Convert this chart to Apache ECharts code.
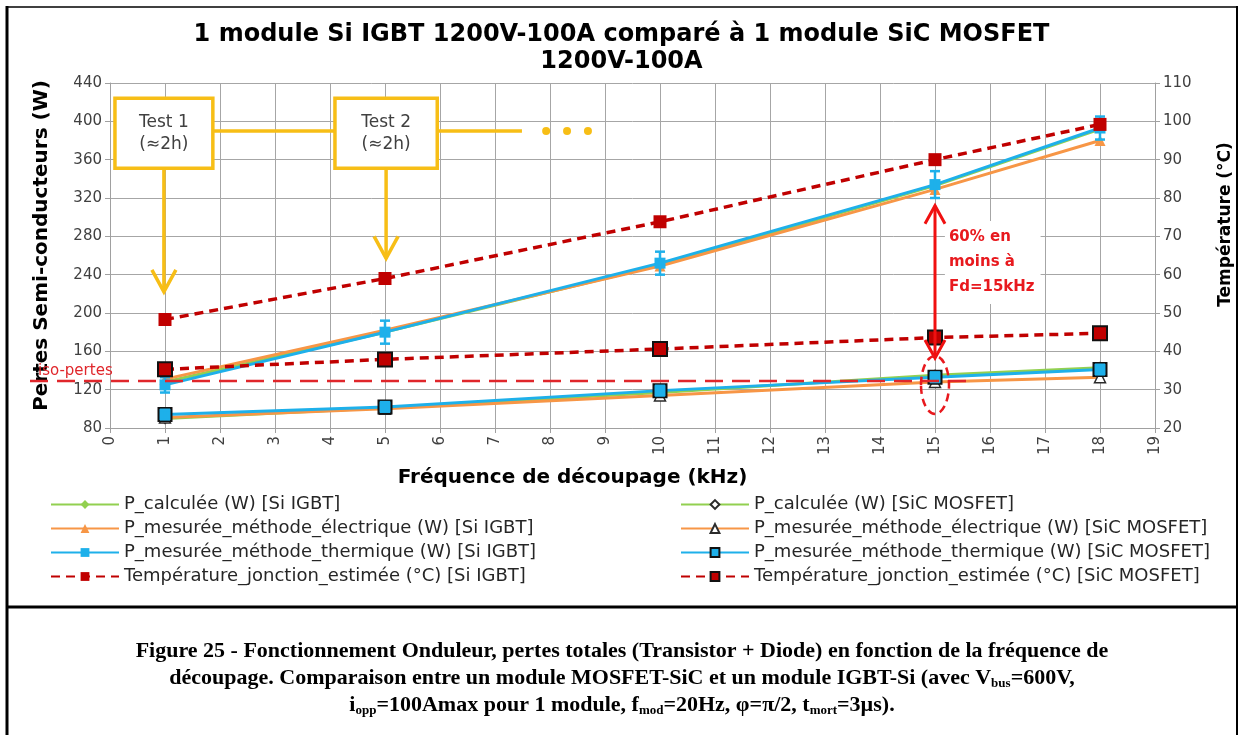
<!DOCTYPE html>
<html><head><meta charset="utf-8">
<script src="https://cdn.jsdelivr.net/npm/echarts@6/dist/echarts.min.js"></script>
<style>html,body{margin:0;padding:0;background:#fff}#c{width:1243px;height:735px}</style>
</head><body><div id="c"></div>
<script>
// ---------- data ----------
const freq = [1, 5, 10, 15, 18];
const siCalc = [128, 180, 250, 333, 392];
const siElec = [131, 182, 249, 329, 380];
const siTherm = [125, 180, 252, 334, 393];
const siThermErr = [8, 12, 12, 14, 12];
const siTemp = [48.3, 59.0, 73.8, 90.0, 99.2];
const sicCalc = [90, 101, 117, 135, 143];
const sicElec = [91, 100, 114, 128, 133];
const sicTherm = [94, 102, 119, 133, 141];
const sicThermErr = [5, 5, 5, 5, 5];
const sicTemp = [35.3, 37.9, 40.6, 43.6, 44.7];
const isoLoss = 129;
const names = {
  siCalc: 'P_calculée (W) [Si IGBT]',
  siElec: 'P_mesurée_méthode_électrique (W) [Si IGBT]',
  siTherm: 'P_mesurée_méthode_thermique (W) [Si IGBT]',
  siTemp: 'Température_jonction_estimée (°C) [Si IGBT]',
  sicCalc: 'P_calculée (W) [SiC MOSFET]',
  sicElec: 'P_mesurée_méthode_électrique (W) [SiC MOSFET]',
  sicTherm: 'P_mesurée_méthode_thermique (W) [SiC MOSFET]',
  sicTemp: 'Température_jonction_estimée (°C) [SiC MOSFET]'
};
const titleText = '1 module Si IGBT 1200V-100A comparé à 1 module SiC MOSFET\n1200V-100A';

// ---------- styles ----------
const GREEN = '#92D050', ORANGE = '#F79646', BLUE = '#1EB0EA', RED = '#C00000', YEL = '#F7BE16', ANN = '#E8191E';
const F = 'DejaVu Sans';
const pairs = a => freq.map((f, i) => [f, a[i]]);

function lineSeries(name, data, color, opts) {
  return Object.assign({
    name, type: 'line', data: pairs(data), color,
    lineStyle: { color, width: 3 },
    symbolSize: 9, showSymbol: true, animation: false, z: 3
  }, opts);
}
function errSeries(vals, errs) {
  return {
    type: 'custom', animation: false, z: 4, silent: true,
    data: freq.map((f, i) => [f, vals[i] - errs[i], vals[i] + errs[i]]),
    renderItem: (params, api) => {
      const lo = api.coord([api.value(0), api.value(1)]);
      const hi = api.coord([api.value(0), api.value(2)]);
      const w = 5;
      const st = { stroke: BLUE, lineWidth: 2.5 };
      return { type: 'group', children: [
        { type: 'line', shape: { x1: lo[0], y1: lo[1], x2: hi[0], y2: hi[1] }, style: st },
        { type: 'line', shape: { x1: lo[0] - w, y1: lo[1], x2: lo[0] + w, y2: lo[1] }, style: st },
        { type: 'line', shape: { x1: hi[0] - w, y1: hi[1], x2: hi[0] + w, y2: hi[1] }, style: st }
      ]};
    }
  };
}

const chart = echarts.init(document.getElementById('c'), null, { renderer: 'canvas' });
const axisLab = { fontFamily: F, fontSize: 15, color: '#404040' };
const legendText = { fontFamily: F, fontSize: 18, color: '#262626', lineHeight: 19 };
const option = {
  animation: false,
  title: { text: titleText, left: 'center', top: 16,
    textStyle: { fontFamily: F, fontSize: 24, fontWeight: 'bold', color: '#000', lineHeight: 27 } },
  grid: { left: 110, right: 88, top: 83, bottom: 307, containLabel: false },
  legend: [
    { orient: 'vertical', left: 45, top: 490, itemWidth: 68, itemHeight: 11, itemGap: 5,
      textStyle: legendText, data: [names.siCalc, names.siElec, names.siTherm, names.siTemp] },
    { orient: 'vertical', left: 675, top: 490, itemWidth: 68, itemHeight: 11, itemGap: 5,
      textStyle: legendText, data: [names.sicCalc, names.sicElec, names.sicTherm, names.sicTemp] }
  ],
  xAxis: { type: 'value', min: 0, max: 19, interval: 1,
    name: 'Fréquence de découpage (kHz)', nameLocation: 'middle', nameGap: 40,
    nameTextStyle: { fontFamily: F, fontSize: 20, fontWeight: 'bold', color: '#000', padding: [0, 120, 0, 0] },
    axisLine: { lineStyle: { color: '#A0A0A0' } }, axisTick: { lineStyle: { color: '#A0A0A0' }, length: 5 },
    axisLabel: Object.assign({ rotate: 90, margin: 8 }, axisLab),
    splitLine: { lineStyle: { color: '#A6A6A6', width: 1 } } },
  yAxis: [
    { type: 'value', min: 80, max: 440, interval: 40, position: 'left',
      name: 'Pertes Semi-conducteurs (W)', nameLocation: 'middle', nameGap: 58, nameRotate: 90,
      nameTextStyle: { fontFamily: F, fontSize: 20, fontWeight: 'bold', color: '#000', padding: [0, 0, 0, 20] },
      axisLine: { show: true, lineStyle: { color: '#A0A0A0' } }, axisTick: { show: true, length: 5, lineStyle: { color: '#A0A0A0' } },
      axisLabel: Object.assign({ margin: 8 }, axisLab),
      splitLine: { lineStyle: { color: '#A6A6A6', width: 1 } } },
    { type: 'value', min: 20, max: 110, interval: 10, position: 'right',
      name: 'Température (°C)', nameLocation: 'middle', nameGap: 62, nameRotate: 90,
      nameTextStyle: { fontFamily: F, fontSize: 17, fontWeight: 'bold', color: '#000', padding: [0, 0, 0, 62] },
      axisLine: { show: true, lineStyle: { color: '#A0A0A0' } }, axisTick: { show: true, length: 5, lineStyle: { color: '#A0A0A0' } },
      axisLabel: Object.assign({ margin: 8 }, axisLab),
      splitLine: { show: false } }
  ],
  series: [
    lineSeries(names.siCalc, siCalc, GREEN, { symbol: 'diamond', symbolSize: 8, itemStyle: { color: GREEN } }),
    lineSeries(names.siElec, siElec, ORANGE, { symbol: 'triangle', symbolSize: 11, itemStyle: { color: ORANGE } }),
    lineSeries(names.siTherm, siTherm, BLUE, { symbol: 'rect', symbolSize: 11, itemStyle: { color: BLUE } }),
    lineSeries(names.siTemp, siTemp, RED, { yAxisIndex: 1, symbol: 'rect', symbolSize: 13,
      lineStyle: { color: RED, width: 3.5, type: [9, 6] }, itemStyle: { color: RED }, z: 5 }),
    lineSeries(names.sicCalc, sicCalc, GREEN, { symbol: 'diamond', symbolSize: 10,
      itemStyle: { color: '#fff', borderColor: '#2b2b2b', borderWidth: 1.5 } }),
    lineSeries(names.sicElec, sicElec, ORANGE, { symbol: 'triangle', symbolSize: 11,
      itemStyle: { color: '#fff', borderColor: '#2b2b2b', borderWidth: 1.5 } }),
    lineSeries(names.sicTherm, sicTherm, BLUE, { symbol: 'rect', symbolSize: 13,
      itemStyle: { color: BLUE, borderColor: '#111', borderWidth: 2 } }),
    lineSeries(names.sicTemp, sicTemp, RED, { yAxisIndex: 1, symbol: 'rect', symbolSize: 14,
      lineStyle: { color: RED, width: 3.5, type: [9, 6] }, itemStyle: { color: RED, borderColor: '#111', borderWidth: 2 }, z: 5 }),
    errSeries(siTherm, siThermErr),
    errSeries(sicTherm, sicThermErr)
  ]
};
chart.setOption(option);

// ---------- annotations (positioned through the axes' scales) ----------
const P = (x, y) => chart.convertToPixel({ xAxisIndex: 0, yAxisIndex: 0 }, [x, y]);
const g = [];
function testBox(x0, x1, label, arrowTipY) {
  const a = P(x0, 424), b = P(x1, 351);
  g.push({ type: 'rect', z: 20, shape: { x: a[0], y: a[1], width: b[0] - a[0], height: b[1] - a[1] },
    style: { fill: '#fff', stroke: YEL, lineWidth: 3.5 } });
  g.push({ type: 'text', z: 21, x: (a[0] + b[0]) / 2, y: (a[1] + b[1]) / 2,
    style: { text: label + '\n(≈2h)', fill: '#404040', font: '17px "DejaVu Sans"', align: 'center', verticalAlign: 'middle', lineHeight: 22 } });
  const cx = (x0 + x1) / 2;
  const top = P(cx, 351), tip = P(cx, arrowTipY);
  g.push({ type: 'line', z: 20, shape: { x1: top[0], y1: top[1], x2: tip[0], y2: tip[1] }, style: { stroke: YEL, lineWidth: 3.5 } });
  g.push({ type: 'polyline', z: 20, shape: { points: [[tip[0] - 12, tip[1] - 22], [tip[0], tip[1]], [tip[0] + 12, tip[1] - 22]] },
    style: { stroke: YEL, lineWidth: 3.5, fill: null } });
  return [a, b];
}
const b1 = testBox(0.09, 1.87, 'Test 1', 222);
const b2 = testBox(4.09, 5.95, 'Test 2', 257);
const hy = P(0, 390)[1];
g.push({ type: 'line', z: 19, shape: { x1: b1[1][0], y1: hy, x2: b2[0][0], y2: hy }, style: { stroke: YEL, lineWidth: 3.5 } });
const lineEnd = P(7.49, 390);
g.push({ type: 'line', z: 19, shape: { x1: b2[1][0], y1: hy, x2: lineEnd[0], y2: hy }, style: { stroke: YEL, lineWidth: 3.5 } });
[7.93, 8.31, 8.69].forEach(x => { const p = P(x, 390); g.push({ type: 'circle', z: 19, shape: { cx: p[0], cy: p[1], r: 4 }, style: { fill: YEL } }); });

// iso-pertes line
const isoEnd = P(15.7, isoLoss);
g.push({ type: 'line', z: 6, shape: { x1: 30, y1: isoEnd[1], x2: isoEnd[0], y2: isoEnd[1] },
  style: { stroke: '#E0262B', lineWidth: 2.5, lineDash: [18, 9] } });
g.push({ type: 'text', z: 6, x: 38, y: isoEnd[1] - 2,
  style: { text: 'iso-pertes', fill: '#E0262B', font: '15px "DejaVu Sans"', align: 'left', verticalAlign: 'bottom' } });

// 60% arrow
const at = P(15, 312), ab = P(15, 153);
g.push({ type: 'line', z: 22, shape: { x1: at[0], y1: at[1], x2: ab[0], y2: ab[1] }, style: { stroke: '#F01010', lineWidth: 3 } });
g.push({ type: 'polyline', z: 22, shape: { points: [[at[0] - 10, at[1] + 18], [at[0], at[1]], [at[0] + 10, at[1] + 18]] }, style: { stroke: '#F01010', lineWidth: 3, fill: null } });
g.push({ type: 'polyline', z: 22, shape: { points: [[ab[0] - 10, ab[1] - 18], [ab[0], ab[1]], [ab[0] + 10, ab[1] - 18]] }, style: { stroke: '#F01010', lineWidth: 3, fill: null } });
const tp = P(15.18, 296);
g.push({ type: 'text', z: 21, x: tp[0], y: tp[1],
  style: { text: '60% en\nmoins à\nFd=15kHz', fill: ANN, font: 'bold 15px "DejaVu Sans"', lineHeight: 25,
    align: 'left', verticalAlign: 'top', backgroundColor: '#fff', padding: [4, 6, 4, 4] } });
const ec = P(15, 125);
g.push({ type: 'ellipse', z: 22, shape: { cx: ec[0], cy: ec[1], rx: 14, ry: 29 }, style: { stroke: '#E8191E', lineWidth: 2.5, lineDash: [8, 5], fill: null } });

// frame and caption
g.push({ type: 'line', z: 30, shape: { x1: 7, y1: 7, x2: 1237, y2: 7 }, style: { stroke: '#000', lineWidth: 1.5 } });
g.push({ type: 'line', z: 30, shape: { x1: 7, y1: 6, x2: 7, y2: 735 }, style: { stroke: '#000', lineWidth: 3 } });
g.push({ type: 'line', z: 30, shape: { x1: 1237, y1: 6, x2: 1237, y2: 735 }, style: { stroke: '#000', lineWidth: 2 } });
g.push({ type: 'line', z: 30, shape: { x1: 6, y1: 607, x2: 1238, y2: 607 }, style: { stroke: '#000', lineWidth: 3 } });
const capFont = 'bold 22px "Liberation Serif"';
const rich = { n: { font: capFont, fill: '#000', lineHeight: 25 },
  s: { font: 'bold 13px "Liberation Serif"', fill: '#000', lineHeight: 8, verticalAlign: 'bottom' } };
const capLines = [
  '{n|Figure 25 - Fonctionnement Onduleur, pertes totales (Transistor + Diode) en fonction de la fréquence de}',
  '{n|découpage. Comparaison entre un module MOSFET-SiC et un module IGBT-Si (avec V}{s|bus}{n|=600V,}',
  '{n|i}{s|opp}{n|=100Amax pour 1 module, f}{s|mod}{n|=20Hz, φ=π/2, t}{s|mort}{n|=3µs).}'
];
capLines.forEach((t, i) => g.push({ type: 'text', z: 30, x: 622, y: 651 + i * 27,
  style: { text: t, rich, align: 'center', verticalAlign: 'middle' } }));

chart.setOption({ graphic: g });
</script></body></html>
